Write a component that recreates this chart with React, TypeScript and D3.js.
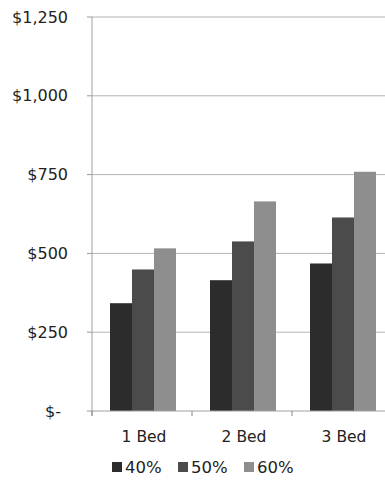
import React from "react";
import * as d3 from "d3";

const categories = ["1 Bed", "2 Bed", "3 Bed"];
const seriesNames = ["40%", "50%", "60%"];
const values40 = [342, 415, 468];
const values50 = [449, 538, 614];
const values60 = [516, 665, 759];
const yTicks = [0, 250, 500, 750, 1000, 1250];
const yTickLabels = ["$-", "$250", "$500", "$750", "$1,000", "$1,250"];
const colors = ["#2c2c2c", "#4b4b4b", "#8e8e8e"];

const W = 385;
const H = 480;
const left = 92;
const right = 392;
const top = 17;
const bottom = 411;
const font = "'DejaVu Sans', sans-serif";

export default function App() {
  const series = [values40, values50, values60];
  const y = d3.scaleLinear().domain([0, 1250]).range([bottom, top]);
  const x0 = d3.scaleBand<string>().domain(categories).range([left, right]).padding(0);
  const x1 = d3.scaleBand<string>().domain(seriesNames).range([18, 84]).padding(0);
  const boundaries = categories.map((c) => x0(c)!).concat([right]);

  return (
    <svg width={W} height={H} style={{ position: "absolute", left: 0, top: 0, background: "#fff" }}>
      {yTicks.map((t, i) => (
        <g key={t}>
          {t > 0 && (
            <line x1={left} x2={W} y1={y(t)} y2={y(t)} stroke="#b4b4b4" strokeWidth={1} />
          )}
          <line x1={left - 5} x2={left} y1={y(t)} y2={y(t)} stroke="#999" />
          <text x={t === 0 ? 61 : 68} y={y(t)} dy="0.35em" textAnchor="end" fontFamily={font} fontSize={16} fill="#222">
            {yTickLabels[i]}
          </text>
        </g>
      ))}
      {categories.map((c, ci) =>
        series.map((s, si) => (
          <rect
            key={c + si}
            x={x0(c)! + x1(seriesNames[si])!}
            y={y(s[ci])}
            width={x1.bandwidth()}
            height={bottom - y(s[ci])}
            fill={colors[si]}
          />
        ))
      )}
      <line x1={left} x2={left} y1={top} y2={bottom + 5} stroke="#a0a0a0" />
      <line x1={left} x2={W} y1={bottom} y2={bottom} stroke="#a0a0a0" />
      {boundaries.map((b, i) => (
        <line key={i} x1={b} x2={b} y1={bottom} y2={bottom + 5} stroke="#888" />
      ))}
      {categories.map((c) => (
        <text key={c} x={x0(c)! + x0.bandwidth() / 2 + 2} y={437} dy="0.35em" textAnchor="middle" fontFamily={font} fontSize={15.5} fill="#222">
          {c}
        </text>
      ))}
      {seriesNames.map((n, i) => (
        <g key={n} transform={`translate(${112 + i * 66},467)`}>
          <rect x={0} y={-5} width={10} height={10} fill={colors[i]} />
          <text x={13} y={0} dy="0.35em" fontFamily={font} fontSize={16.5} fill="#222">
            {n}
          </text>
        </g>
      ))}
    </svg>
  );
}
